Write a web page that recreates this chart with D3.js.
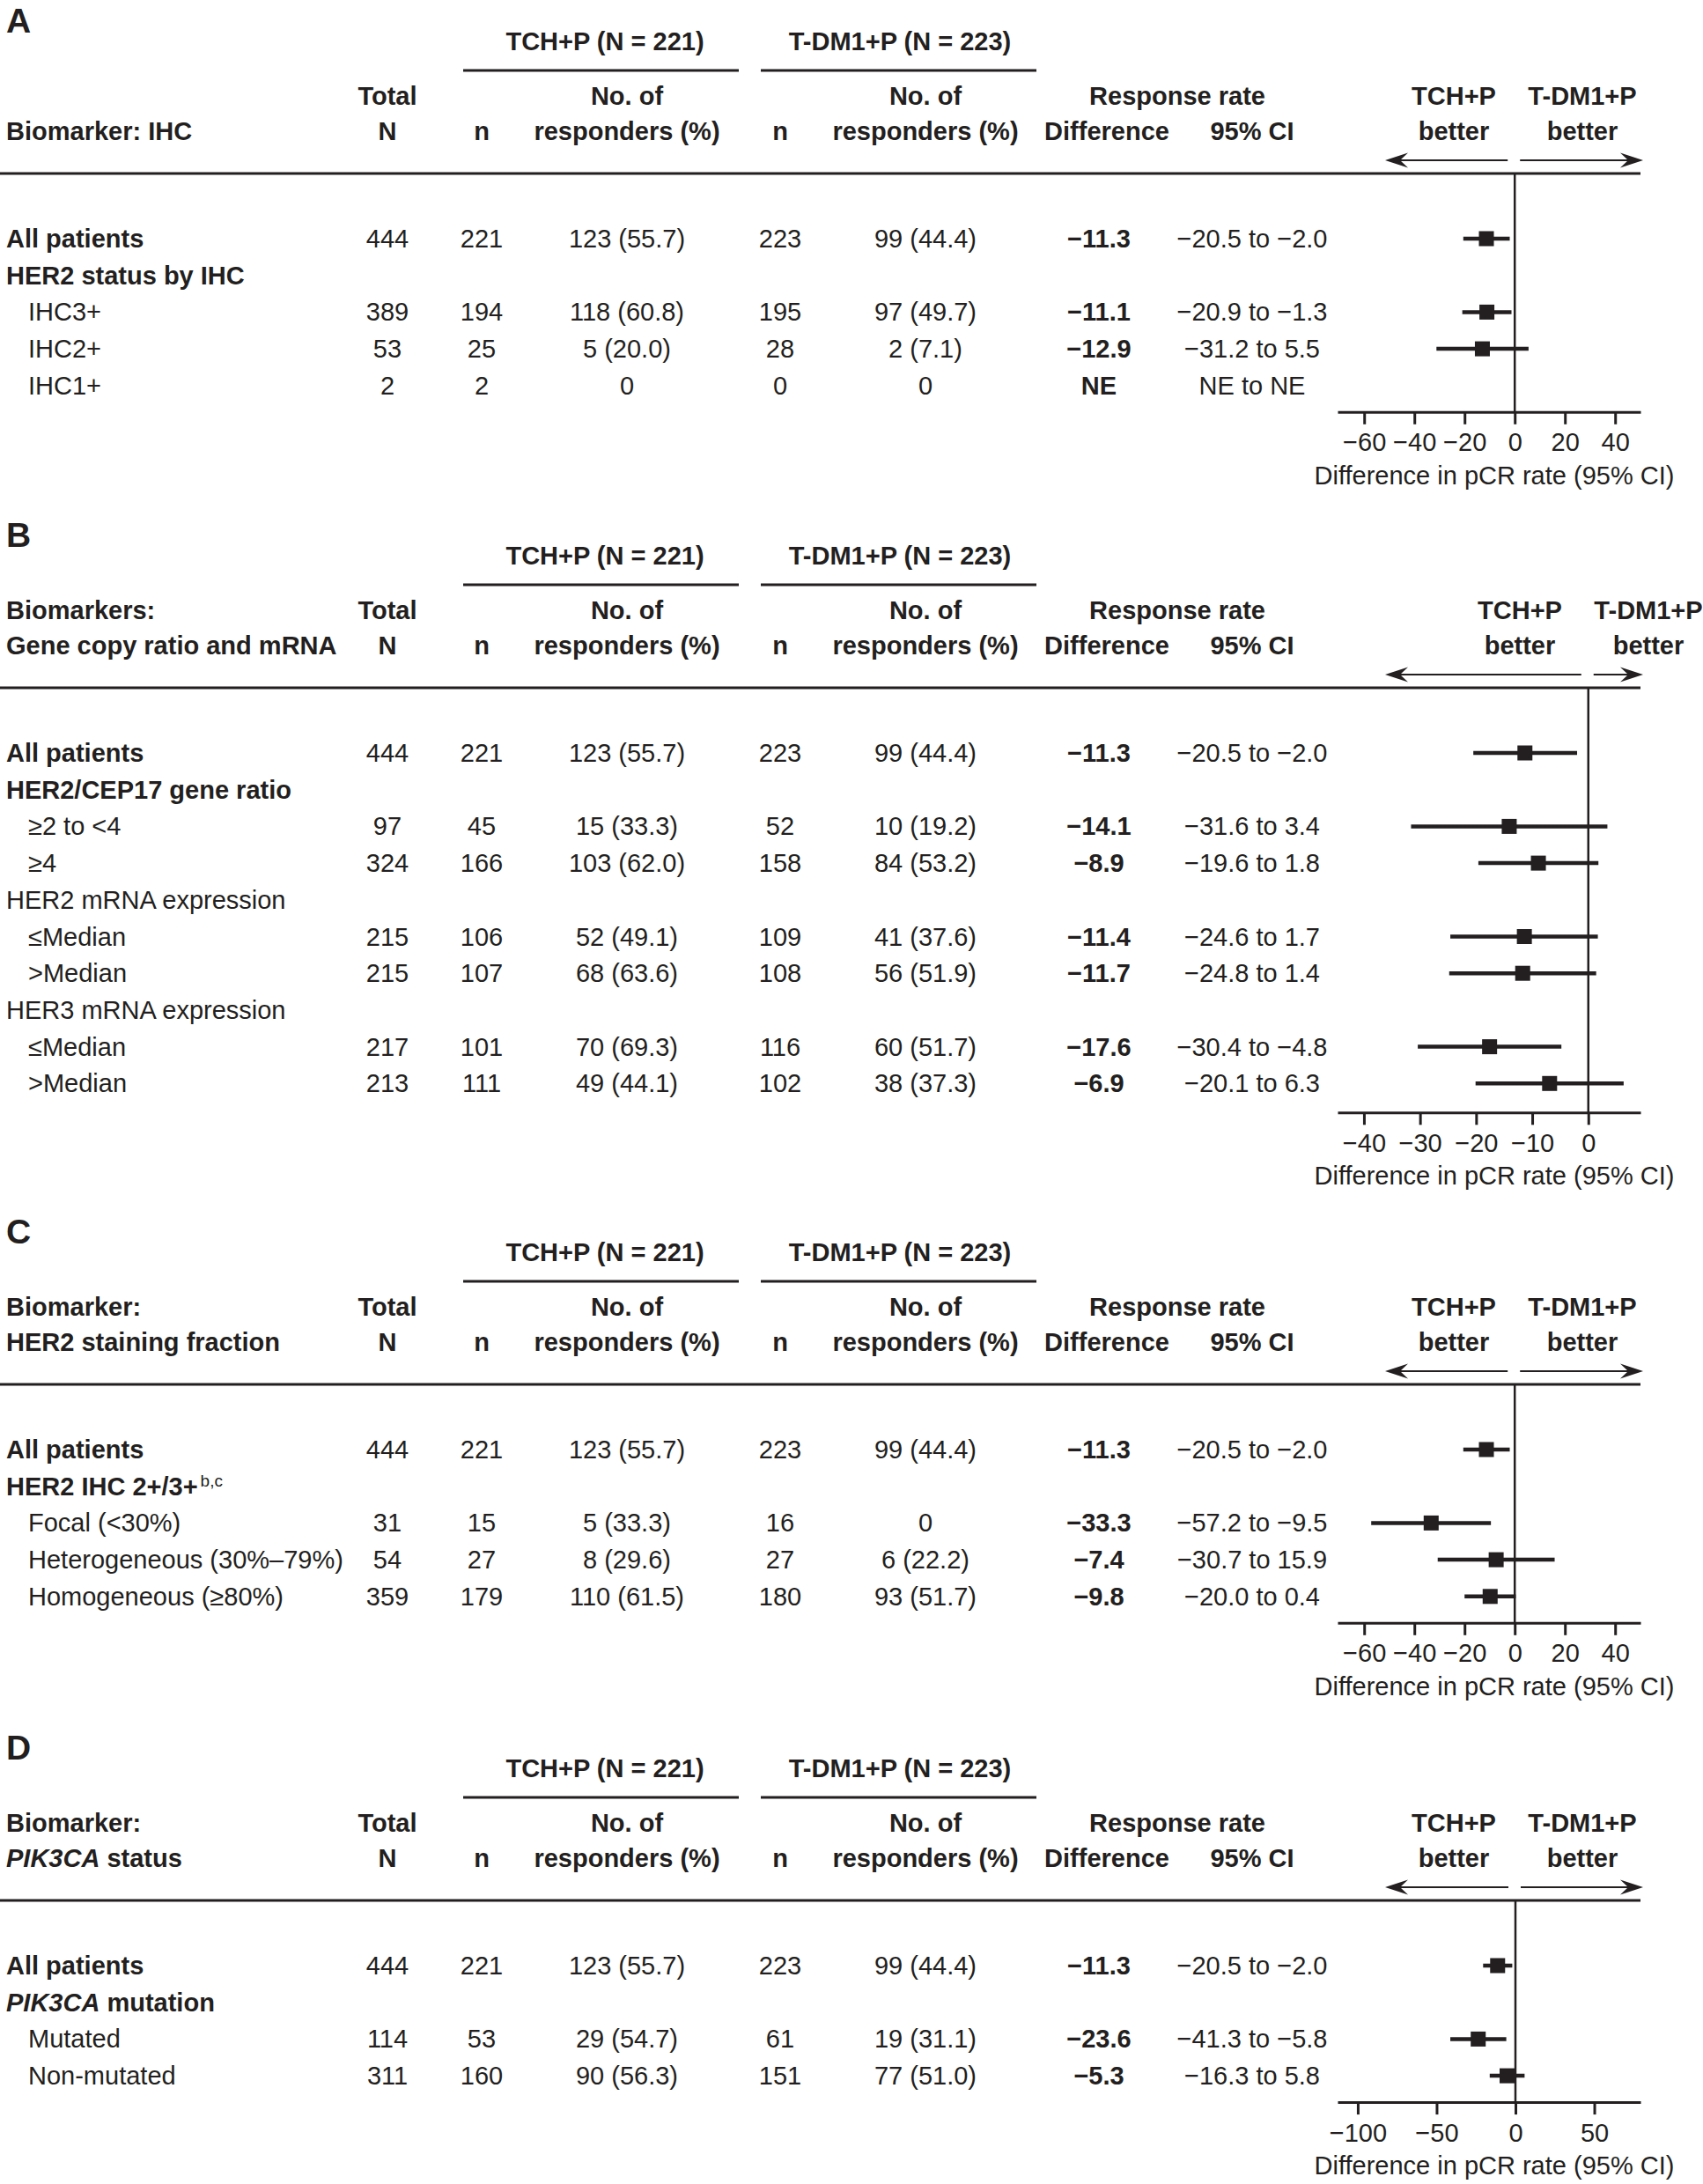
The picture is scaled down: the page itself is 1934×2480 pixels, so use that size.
<!DOCTYPE html>
<html><head><meta charset="utf-8">
<script src="https://cdn.jsdelivr.net/npm/d3@7/dist/d3.min.js"></script>
<style>body{margin:0;background:#fff}svg{display:block}</style>
</head><body>
<script>
// ================= DATA =================
const panelLetters = ["A", "B", "C", "D"];
const armHeaders = ["TCH+P (N = 221)", "T-DM1+P (N = 223)"];
const favourLabels = [["TCH+P", "better"], ["T-DM1+P", "better"]];
const axisTitle = "Difference in pCR rate (95% CI)";
const colHeadLine1 = ["Total", "No. of", "No. of", "Response rate"];
const colHeadLine2 = ["N", "n", "responders (%)", "n", "responders (%)", "Difference", "95% CI"];
const biomarkerHeaders = [["", "Biomarker: IHC"], ["Biomarkers:", "Gene copy ratio and mRNA"], ["Biomarker:", "HER2 staining fraction"], ["Biomarker:", "*PIK3CA* status"]];

// Panel A – IHC
const labelsA = ["All patients", "HER2 status by IHC", "IHC3+", "IHC2+", "IHC1+"];
const kindsA = ["total", "groupBold", "item", "item", "item"];
const totalNA = [444, null, 389, 53, 2];
const tchA = [[221, 123, 55.7], null, [194, 118, 60.8], [25, 5, 20.0], [2, 0, null]];
const tdmA = [[223, 99, 44.4], null, [195, 97, 49.7], [28, 2, 7.1], [0, 0, null]];
const diffA = [-11.3, null, -11.1, -12.9, "NE"];
const ciA = [[-20.5, -2.0], null, [-20.9, -1.3], [-31.2, 5.5], ["NE", "NE"]];
const domainA = [-70.6, 50.1];
const ticksA = [-60, -40, -20, 0, 20, 40];

// Panel B – gene copy ratio and mRNA
const labelsB = ["All patients", "HER2/CEP17 gene ratio", "\u22652 to <4", "\u22654", "HER2 mRNA expression", "\u2264Median", ">Median", "HER3 mRNA expression", "\u2264Median", ">Median"];
const kindsB = ["total", "groupBold", "item", "item", "group", "item", "item", "group", "item", "item"];
const totalNB = [444, null, 97, 324, null, 215, 215, null, 217, 213];
const tchB = [[221, 123, 55.7], null, [45, 15, 33.3], [166, 103, 62.0], null, [106, 52, 49.1], [107, 68, 63.6], null, [101, 70, 69.3], [111, 49, 44.1]];
const tdmB = [[223, 99, 44.4], null, [52, 10, 19.2], [158, 84, 53.2], null, [109, 41, 37.6], [108, 56, 51.9], null, [116, 60, 51.7], [102, 38, 37.3]];
const diffB = [-11.3, null, -14.1, -8.9, null, -11.4, -11.7, null, -17.6, -6.9];
const ciB = [[-20.5, -2.0], null, [-31.6, 3.4], [-19.6, 1.8], null, [-24.6, 1.7], [-24.8, 1.4], null, [-30.4, -4.8], [-20.1, 6.3]];
const domainB = [-44.7, 9.3];
const ticksB = [-40, -30, -20, -10, 0];

// Panel C – HER2 staining fraction
const labelsC = ["All patients", "HER2 IHC 2+/3+^b,c", "Focal (<30%)", "Heterogeneous (30%\u201379%)", "Homogeneous (\u226580%)"];
const kindsC = ["total", "groupBold", "item", "item", "item"];
const totalNC = [444, null, 31, 54, 359];
const tchC = [[221, 123, 55.7], null, [15, 5, 33.3], [27, 8, 29.6], [179, 110, 61.5]];
const tdmC = [[223, 99, 44.4], null, [16, 0, null], [27, 6, 22.2], [180, 93, 51.7]];
const diffC = [-11.3, null, -33.3, -7.4, -9.8];
const ciC = [[-20.5, -2.0], null, [-57.2, -9.5], [-30.7, 15.9], [-20.0, 0.4]];
const domainC = [-70.6, 50.1];
const ticksC = [-60, -40, -20, 0, 20, 40];

// Panel D – PIK3CA status
const labelsD = ["All patients", "*PIK3CA* mutation", "Mutated", "Non-mutated"];
const kindsD = ["total", "groupBold", "item", "item"];
const totalND = [444, null, 114, 311];
const tchD = [[221, 123, 55.7], null, [53, 29, 54.7], [160, 90, 56.3]];
const tdmD = [[223, 99, 44.4], null, [61, 19, 31.1], [151, 77, 51.0]];
const diffD = [-11.3, null, -23.6, -5.3];
const ciD = [[-20.5, -2.0], null, [-41.3, -5.8], [-16.3, 5.8]];
const domainD = [-112.8, 79.3];
const ticksD = [-100, -50, 0, 50];

// ================= LAYOUT =================
const W = 1934, H = 2480;
const FONT = "'Liberation Sans', Arial, Helvetica, sans-serif";
const INK = "#231f20";
const FS = 29;
const colX = { label: 7, indent: 32, total: 440, n1: 547, r1: 712, n2: 886, r2: 1051, diff: 1248, ci: 1422 };
const headX = { total: 440, n1: 547, r1: 712, n2: 886, r2: 1051, resp: 1337, diff: 1257, ci: 1422 };
const armLineX = [[526, 839], [864, 1177]];
const armTextX = [687, 1022];
const plotRange = [1519, 1863];
const ROW = 41.7;

const panels = [
  { letter: panelLetters[0], head: biomarkerHeaders[0], labels: labelsA, kinds: kindsA, totalN: totalNA, tch: tchA, tdm: tdmA, diff: diffA, ci: ciA, domain: domainA, ticks: ticksA, top: 57, favX: [1651, 1797], axisGap: 20 },
  { letter: panelLetters[1], head: biomarkerHeaders[1], labels: labelsB, kinds: kindsB, totalN: totalNB, tch: tchB, tdm: tdmB, diff: diffB, ci: ciB, domain: domainB, ticks: ticksB, top: 641, favX: [1726, 1872], axisGap: 23 },
  { letter: panelLetters[2], head: biomarkerHeaders[2], labels: labelsC, kinds: kindsC, totalN: totalNC, tch: tchC, tdm: tdmC, diff: diffC, ci: ciC, domain: domainC, ticks: ticksC, top: 1432, favX: [1651, 1797], axisGap: 20 },
  { letter: panelLetters[3], head: biomarkerHeaders[3], labels: labelsD, kinds: kindsD, totalN: totalND, tch: tchD, tdm: tdmD, diff: diffD, ci: ciD, domain: domainD, ticks: ticksD, top: 2018, favX: [1651, 1797], axisGap: 20 }
];

const svg = d3.select("body").append("svg")
  .attr("width", W).attr("height", H)
  .attr("viewBox", `0 0 ${W} ${H}`)
  .style("font-family", FONT);

svg.append("rect").attr("width", W).attr("height", H).attr("fill", "#fff");

const fmt = v => (typeof v === "number") ? v.toFixed(1).replace("-", "\u2212") : v;
const resp = r => !r ? "" : (r[1] === 0 ? "0" : `${r[1]} (${r[2].toFixed(1)})`);

function txt(g, x, y, s, opts = {}) {
  const t = g.append("text")
    .attr("x", x).attr("y", y)
    .attr("fill", INK)
    .attr("font-size", opts.size || FS)
    .attr("font-weight", opts.bold ? "bold" : "normal")
    .attr("text-anchor", opts.anchor || "middle");
  // rich text: *italic* and ^superscript
  const parts = String(s).split(/(\*[^*]+\*|\^\S+)/).filter(p => p !== "");
  parts.forEach(p => {
    if (p.startsWith("*")) {
      t.append("tspan").attr("font-style", "italic").text(p.slice(1, -1));
    } else if (p.startsWith("^")) {
      t.append("tspan").attr("font-size", 19).attr("font-weight", "normal")
        .attr("baseline-shift", "super").attr("dx", 3).text(p.slice(1));
    } else {
      t.append("tspan").text(p);
    }
  });
  return t;
}

function arrowHead(g, x, y, dir) {
  const L = 26, hw = 8.5, notch = 17;
  const p = d3.path();
  p.moveTo(x, y);
  p.lineTo(x - dir * L, y - hw);
  p.lineTo(x - dir * notch, y);
  p.lineTo(x - dir * L, y + hw);
  p.closePath();
  g.append("path").attr("d", p.toString()).attr("fill", INK);
}

panels.forEach(P => {
  const g = svg.append("g");
  const G = P.top;
  const x = d3.scaleLinear().domain(P.domain).range(plotRange);

  // panel letter
  txt(g, 7, G - 20, P.letter, { size: 39, bold: true, anchor: "start" });

  // arm headers and underlines
  armHeaders.forEach((h, i) => {
    txt(g, armTextX[i], G, h, { bold: true });
    g.append("line").attr("x1", armLineX[i][0]).attr("x2", armLineX[i][1])
      .attr("y1", G + 23).attr("y2", G + 23).attr("stroke", INK).attr("stroke-width", 3);
  });

  // column headers
  const y1 = G + 62, y2 = G + 102;
  if (P.head[0]) txt(g, colX.label, y1, P.head[0], { bold: true, anchor: "start" });
  txt(g, colX.label, y2, P.head[1], { bold: true, anchor: "start" });
  txt(g, headX.total, y1, colHeadLine1[0], { bold: true });
  txt(g, headX.r1, y1, colHeadLine1[1], { bold: true });
  txt(g, headX.r2, y1, colHeadLine1[2], { bold: true });
  txt(g, headX.resp, y1, colHeadLine1[3], { bold: true });
  const l2x = [headX.total, headX.n1, headX.r1, headX.n2, headX.r2, headX.diff, headX.ci];
  colHeadLine2.forEach((s, i) => txt(g, l2x[i], y2, s, { bold: true }));

  // favour labels and arrows
  favourLabels.forEach((f, i) => {
    txt(g, P.favX[i], y1, f[0], { bold: true });
    txt(g, P.favX[i], y2, f[1], { bold: true });
  });
  const ay = G + 125, x0 = x(0);
  g.append("line").attr("x1", 1578).attr("x2", x0 - 8).attr("y1", ay).attr("y2", ay)
    .attr("stroke", INK).attr("stroke-width", 2.2);
  arrowHead(g, 1573, ay, -1);
  g.append("line").attr("x1", x0 + 6).attr("x2", 1861).attr("y1", ay).attr("y2", ay)
    .attr("stroke", INK).attr("stroke-width", 2.2);
  arrowHead(g, 1866, ay, 1);

  // header rule
  const ruleY = G + 140;
  g.append("line").attr("x1", 0).attr("x2", plotRange[1]).attr("y1", ruleY).attr("y2", ruleY)
    .attr("stroke", INK).attr("stroke-width", 3);

  // rows
  const rowY = i => G + 224 + i * ROW;
  P.labels.forEach((lab, i) => {
    const y = rowY(i);
    const k = P.kinds[i];
    const bold = (k === "total" || k === "groupBold");
    txt(g, k === "item" ? colX.indent : colX.label, y, lab, { bold, anchor: "start" });
    if (P.totalN[i] != null) txt(g, colX.total, y, P.totalN[i]);
    if (P.tch[i]) { txt(g, colX.n1, y, P.tch[i][0]); txt(g, colX.r1, y, resp(P.tch[i])); }
    if (P.tdm[i]) { txt(g, colX.n2, y, P.tdm[i][0]); txt(g, colX.r2, y, resp(P.tdm[i])); }
    if (P.diff[i] != null) txt(g, colX.diff, y, fmt(P.diff[i]), { bold: true });
    if (P.ci[i]) txt(g, colX.ci, y, `${fmt(P.ci[i][0])} to ${fmt(P.ci[i][1])}`);
  });

  // axis
  const axisY = rowY(P.labels.length - 1) + P.axisGap;

  // zero line
  g.append("line").attr("x1", x0).attr("x2", x0).attr("y1", ruleY).attr("y2", axisY)
    .attr("stroke", INK).attr("stroke-width", 2.5);

  const axis = d3.axisBottom(x).tickValues(P.ticks).tickSize(14).tickSizeOuter(0).tickPadding(10)
    .tickFormat(d => String(d).replace("-", "\u2212"));
  const ag = g.append("g").attr("transform", `translate(0,${axisY})`).call(axis);
  ag.select(".domain").attr("stroke", INK).attr("stroke-width", 3);
  ag.selectAll(".tick line").attr("stroke", INK).attr("stroke-width", 3);
  ag.selectAll(".tick text").attr("fill", INK).attr("font-size", FS).attr("font-family", FONT);

  txt(g, 1697, axisY + 82, axisTitle);

  // forest marks
  const pts = P.diff.map((d, i) => ({ d, ci: P.ci[i], y: rowY(i) - 10 }))
    .filter(p => typeof p.d === "number" && p.ci && typeof p.ci[0] === "number");
  g.selectAll(".ci").data(pts).enter().append("line")
    .attr("x1", p => x(p.ci[0])).attr("x2", p => x(p.ci[1]))
    .attr("y1", p => p.y).attr("y2", p => p.y)
    .attr("stroke", INK).attr("stroke-width", 4.5);
  g.selectAll(".pt").data(pts).enter().append("rect")
    .attr("x", p => x(p.d) - 8.5).attr("y", p => p.y - 8.5)
    .attr("width", 17).attr("height", 17).attr("fill", INK);
});
</script>
</body></html>
